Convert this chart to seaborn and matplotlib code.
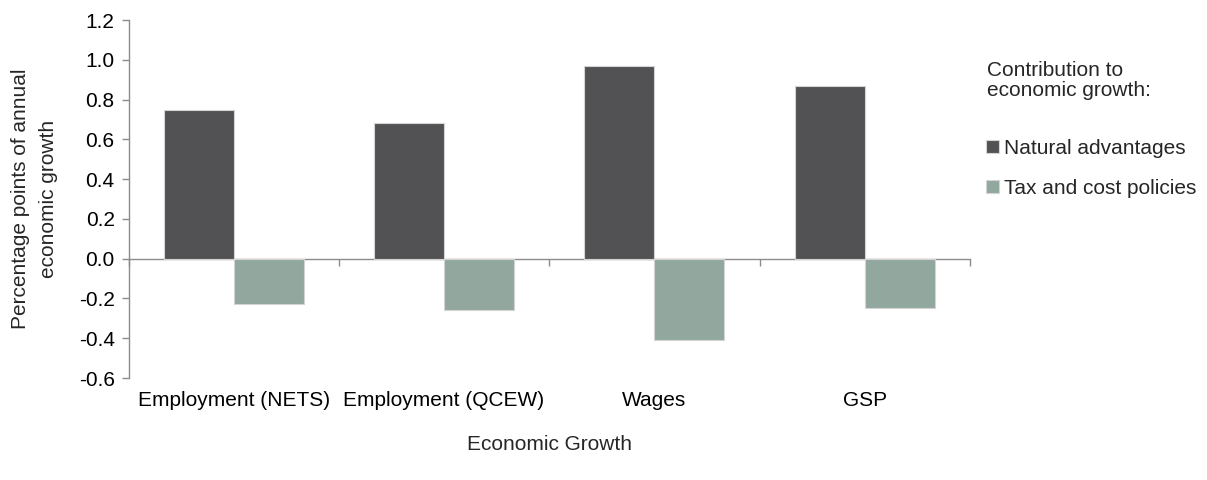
import pandas as pd
import seaborn as sns
import matplotlib.pyplot as plt

# --- data ---
categories = ["Employment (NETS)", "Employment (QCEW)", "Wages", "GSP"]
series_names = ["Natural advantages", "Tax and cost policies"]
natural_advantages = [0.75, 0.68, 0.97, 0.87]
tax_and_cost = [-0.23, -0.26, -0.41, -0.25]
y_ticks = [-0.6, -0.4, -0.2, 0.0, 0.2, 0.4, 0.6, 0.8, 1.0, 1.2]

colors = ["#525254", "#8faa9e"]
axis_grey = "#8c8c8c"

df = pd.DataFrame({
    "Measure": categories * 2,
    "Contribution": [series_names[0]] * len(categories) + [series_names[1]] * len(categories),
    "Value": natural_advantages + tax_and_cost,
})

sns.set_style("white")
plt.rcParams['font.family'] = ['Liberation Sans', 'DejaVu Sans']
FS = 15

fig = plt.figure(figsize=(12.07, 4.8), dpi=100)
ax = fig.add_axes([0.1065, 0.2125, 0.697, 0.7458])

sns.barplot(data=df, x="Measure", y="Value", hue="Contribution",
            palette=colors, width=0.667, edgecolor="#d4d4d4", linewidth=0.8,
            ax=ax)

ax.set_ylim(y_ticks[0], y_ticks[-1])
ax.set_xlim(-0.5, len(categories) - 0.5)
ax.set_yticks(y_ticks)
ax.set_yticklabels([f"{t:.1f}" for t in y_ticks])

# axes styling (Excel look)
for s in ["top", "right", "bottom"]:
    ax.spines[s].set_visible(False)
ax.spines["left"].set_color(axis_grey)
ax.spines["left"].set_linewidth(1.0)
ax.tick_params(axis="y", direction="out", length=5, width=1.0, color=axis_grey,
               labelsize=FS, labelcolor="black", pad=5, left=True)
ax.tick_params(axis="x", length=0, labelsize=FS, labelcolor="black", pad=9)

# zero line with category-boundary ticks
zero_frac = (0 - y_ticks[0]) / (y_ticks[-1] - y_ticks[0])
sec = ax.secondary_xaxis(zero_frac)
sec.set_xticks([i - 0.5 for i in range(len(categories) + 1)])
sec.set_xticklabels([])
sec.tick_params(direction="out", length=5, width=1.0, color=axis_grey)
sec.spines["bottom"].set_color(axis_grey)
sec.spines["bottom"].set_linewidth(1.0)

ax.set_xlabel("Economic Growth", fontsize=FS)
ax.xaxis.set_label_coords(0.5, -0.16)
ax.set_ylabel("Percentage points of annual\neconomic growth", fontsize=FS, linespacing=1.6)
ax.yaxis.set_label_coords(-0.084, 0.5)

# legend
handles, labels = ax.get_legend_handles_labels()
ax.legend(handles, labels, loc="upper left", bbox_to_anchor=(986 / 1207, 1 - 139 / 480),
          bbox_transform=fig.transFigure, frameon=False, fontsize=FS,
          handlelength=0.6, handleheight=0.6, handletextpad=0.25, labelspacing=1.0,
          borderpad=0, borderaxespad=0)
fig.text(987 / 1207, 1 - 61 / 480, "Contribution to\neconomic growth:", fontsize=FS,
         ha="left", va="top", linespacing=1.1)

fig.savefig("out.png", dpi=100)
